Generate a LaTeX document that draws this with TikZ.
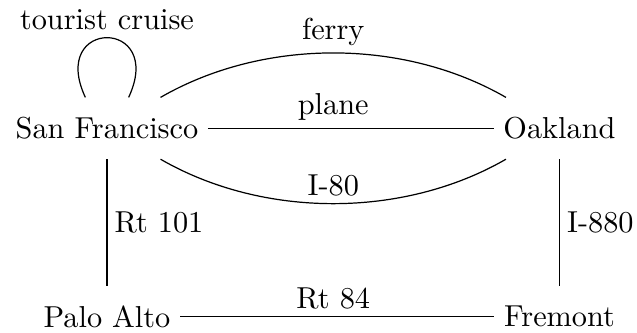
\documentclass[tikz,border=0pt]{standalone}
\usetikzlibrary{calc}
\begin{document}
\begin{tikzpicture}[x=0.33pt,y=-0.33pt,
  city/.style={minimum height=20pt, inner xsep=3pt, inner ysep=0pt},
  lbl/.style={inner sep=2.3pt}]
\useasboundingbox (0,0) rectangle (637,333);
\node[city] (SF) at (107,128.3) {San Francisco};
\node[city] (OAK) at (559.5,128.3) {Oakland};
\node[city] (PA) at (107,316.7) {Palo Alto};
\node[city] (FR) at (559.5,316.7) {Fremont};
% SF -- Oakland
\draw (SF) -- (OAK);
\node[lbl,anchor=south] (lplane) at ($(SF)!.5!(OAK)$) {plane};
\draw (SF) to[out=30,in=150,looseness=0.88] node[lbl,above] (lferry) {ferry} (OAK);
\draw (SF) to[out=-30,in=-150,looseness=0.88] node[lbl,above] (li80) {I-80} (OAK);
% loop
\draw (SF.125) .. controls +(115:29pt) and +(65:29pt) .. node[lbl,above] (lcruise) {tourist cruise} (SF.55);
% verticals
\draw (SF) -- (PA);
\node[lbl,anchor=west] (l101) at ($(SF)!.5!(PA)$) {Rt 101};
\draw (OAK) -- (FR);
\node[lbl,anchor=west] (l880) at ($(OAK)!.5!(FR)$) {I-880};
% bottom
\draw (PA) -- (FR);
\node[lbl,anchor=south] (l84) at ($(PA)!.5!(FR)$) {Rt 84};
\end{tikzpicture}
\end{document}
